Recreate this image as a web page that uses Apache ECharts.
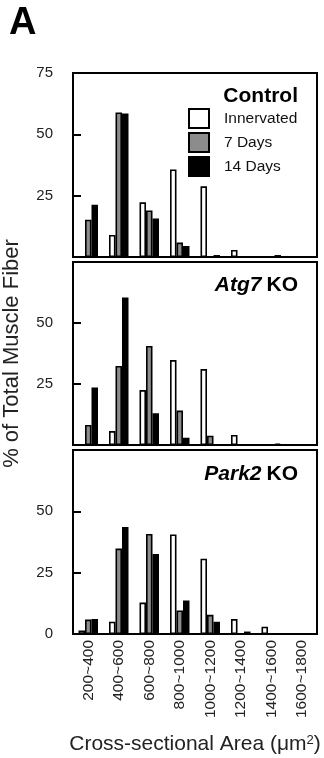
<!DOCTYPE html>
<html>
<head>
<meta charset="utf-8">
<script src="https://cdn.jsdelivr.net/npm/echarts@6/dist/echarts.min.js"></script>
<style>
  html, body { margin: 0; padding: 0; background: #fff; }
  #main { width: 324px; height: 758px; }
</style>
</head>
<body>
<div id="main"></div>
<script>
var categories = ['200~400', '400~600', '600~800', '800~1000', '1000~1200', '1200~1400', '1400~1600', '1600~1800'];
var yTicks = [0, 25, 50, 75];

// Control
var ctrlInnervated = [0, 9, 22.3, 35.7, 28.8, 2.9, 0, 0];
var ctrl7Days = [15.2, 58.9, 19, 5.9, 0, 0, 0, 0];
var ctrl14Days = [21.3, 58.5, 15.7, 4.5, 0.8, 0, 0.8, 0];

// Atg7 KO
var atgInnervated = [0, 5.7, 22.5, 34.8, 31.1, 4.1, 0, 0];
var atg7Days = [8.2, 32.4, 40.6, 14.1, 3.8, 0, 0, 0];
var atg14Days = [23.6, 60.4, 13, 3, 0, 0, 0.6, 0];

// Park2 KO
var parkInnervated = [1.4, 5, 12.8, 40.6, 30.7, 6.1, 3, 0];
var park7Days = [5.9, 34.8, 40.8, 9.6, 7.8, 0, 0, 0];
var park14Days = [6.1, 43.6, 32.6, 13.7, 5, 1, 0, 0];

var FONT = 'Liberation Sans, Arial, Helvetica, sans-serif';
var fills = { 'Innervated': '#ffffff', '7 Days': '#8c8c8c', '14 Days': '#000000' };

var chart = echarts.init(document.getElementById('main'), null, { renderer: 'canvas' });

var grids = [
  { left: 73, right: 7, top: 73, height: 184 },
  { left: 73, right: 7, top: 262, height: 183 },
  { left: 73, right: 7, top: 450, height: 184 }
];
grids.forEach(function (g) {
  g.show = true;
  g.borderColor = '#000';
  g.borderWidth = 2;
  g.backgroundColor = 'transparent';
  g.containLabel = false;
  g.outerBoundsMode = 'none';
});

function yLabels(show) {
  return function (v) { return show.indexOf(v) >= 0 ? String(v) : ''; };
}
var yShown = [[75, 50, 25], [50, 25], [50, 25, 0]];

var xAxes = [0, 1, 2].map(function (i) {
  return {
    type: 'category',
    gridIndex: i,
    data: categories,
    axisLine: { show: false },
    axisTick: { show: false },
    axisLabel: {
      show: i === 2,
      rotate: 90,
      margin: 6,
      fontSize: 15.5,
      color: '#222',
      fontFamily: FONT
    },
    name: i === 2 ? '{t|Cross-sectional Area (μm}{s|2}{t|)}' : '',
    nameLocation: 'middle',
    nameGap: 100,
    nameTextStyle: {
      rich: {
        t: { fontSize: 21, color: '#222', fontFamily: FONT },
        s: { fontSize: 13, color: '#222', fontFamily: FONT, verticalAlign: 'top', padding: [0, 0, 8, 0] }
      }
    }
  };
});

var yAxes = [0, 1, 2].map(function (i) {
  return {
    type: 'value',
    gridIndex: i,
    min: yTicks[0],
    max: yTicks[yTicks.length - 1],
    interval: 25,
    splitLine: { show: false },
    axisLine: { show: false },
    axisTick: { show: true, inside: true, length: 8, lineStyle: { color: '#000', width: 2 } },
    axisLabel: {
      margin: 20,
      fontSize: 15,
      color: '#222',
      fontFamily: FONT,
      formatter: yLabels(yShown[i])
    },
    name: i === 1 ? '% of Total Muscle Fiber' : '',
    nameLocation: 'middle',
    nameGap: 50,
    nameTextStyle: { fontSize: 22, color: '#222', fontFamily: FONT }
  };
});

function bars(name, data, idx) {
  return {
    name: name,
    type: 'bar',
    xAxisIndex: idx,
    yAxisIndex: idx,
    data: data,
    barWidth: 6.5,
    barGap: '0%',
    itemStyle: { color: fills[name], borderColor: '#000', borderWidth: 1.6 },
    emphasis: { disabled: true },
    animation: false
  };
}

var series = [
  bars('Innervated', ctrlInnervated, 0), bars('7 Days', ctrl7Days, 0), bars('14 Days', ctrl14Days, 0),
  bars('Innervated', atgInnervated, 1), bars('7 Days', atg7Days, 1), bars('14 Days', atg14Days, 1),
  bars('Innervated', parkInnervated, 2), bars('7 Days', park7Days, 2), bars('14 Days', park14Days, 2)
];

var titleRich = {
  i: { fontSize: 21, fontWeight: 'bold', fontStyle: 'italic', color: '#000', fontFamily: FONT },
  b: { fontSize: 21, fontWeight: 'bold', color: '#000', fontFamily: FONT }
};

var option = {
  backgroundColor: '#fff',
  animation: false,
  title: [
    { text: 'A', left: 4, top: 0, textStyle: { fontSize: 38, fontWeight: 'bold', color: '#000', fontFamily: FONT } },
    { text: 'Control', right: 21, top: 81, textStyle: { fontSize: 21, fontWeight: 'bold', color: '#000', fontFamily: FONT } },
    { text: '{i|Atg7} {b|KO}', right: 21, top: 270, textStyle: { rich: titleRich } },
    { text: '{i|Park2} {b|KO}', right: 21, top: 459, textStyle: { rich: titleRich } }
  ],
  legend: {
    data: ['Innervated', '7 Days', '14 Days'],
    orient: 'vertical',
    left: 188,
    top: 108,
    padding: 0,
    itemWidth: 20,
    itemHeight: 19,
    itemGap: 3,
    icon: 'rect',
    selectedMode: false,
    textStyle: { fontSize: 15.5, color: '#111', fontFamily: FONT, padding: [0, 0, 0, 10] }
  },
  grid: grids,
  xAxis: xAxes,
  yAxis: yAxes,
  series: series
};

chart.setOption(option);
</script>
</body>
</html>
